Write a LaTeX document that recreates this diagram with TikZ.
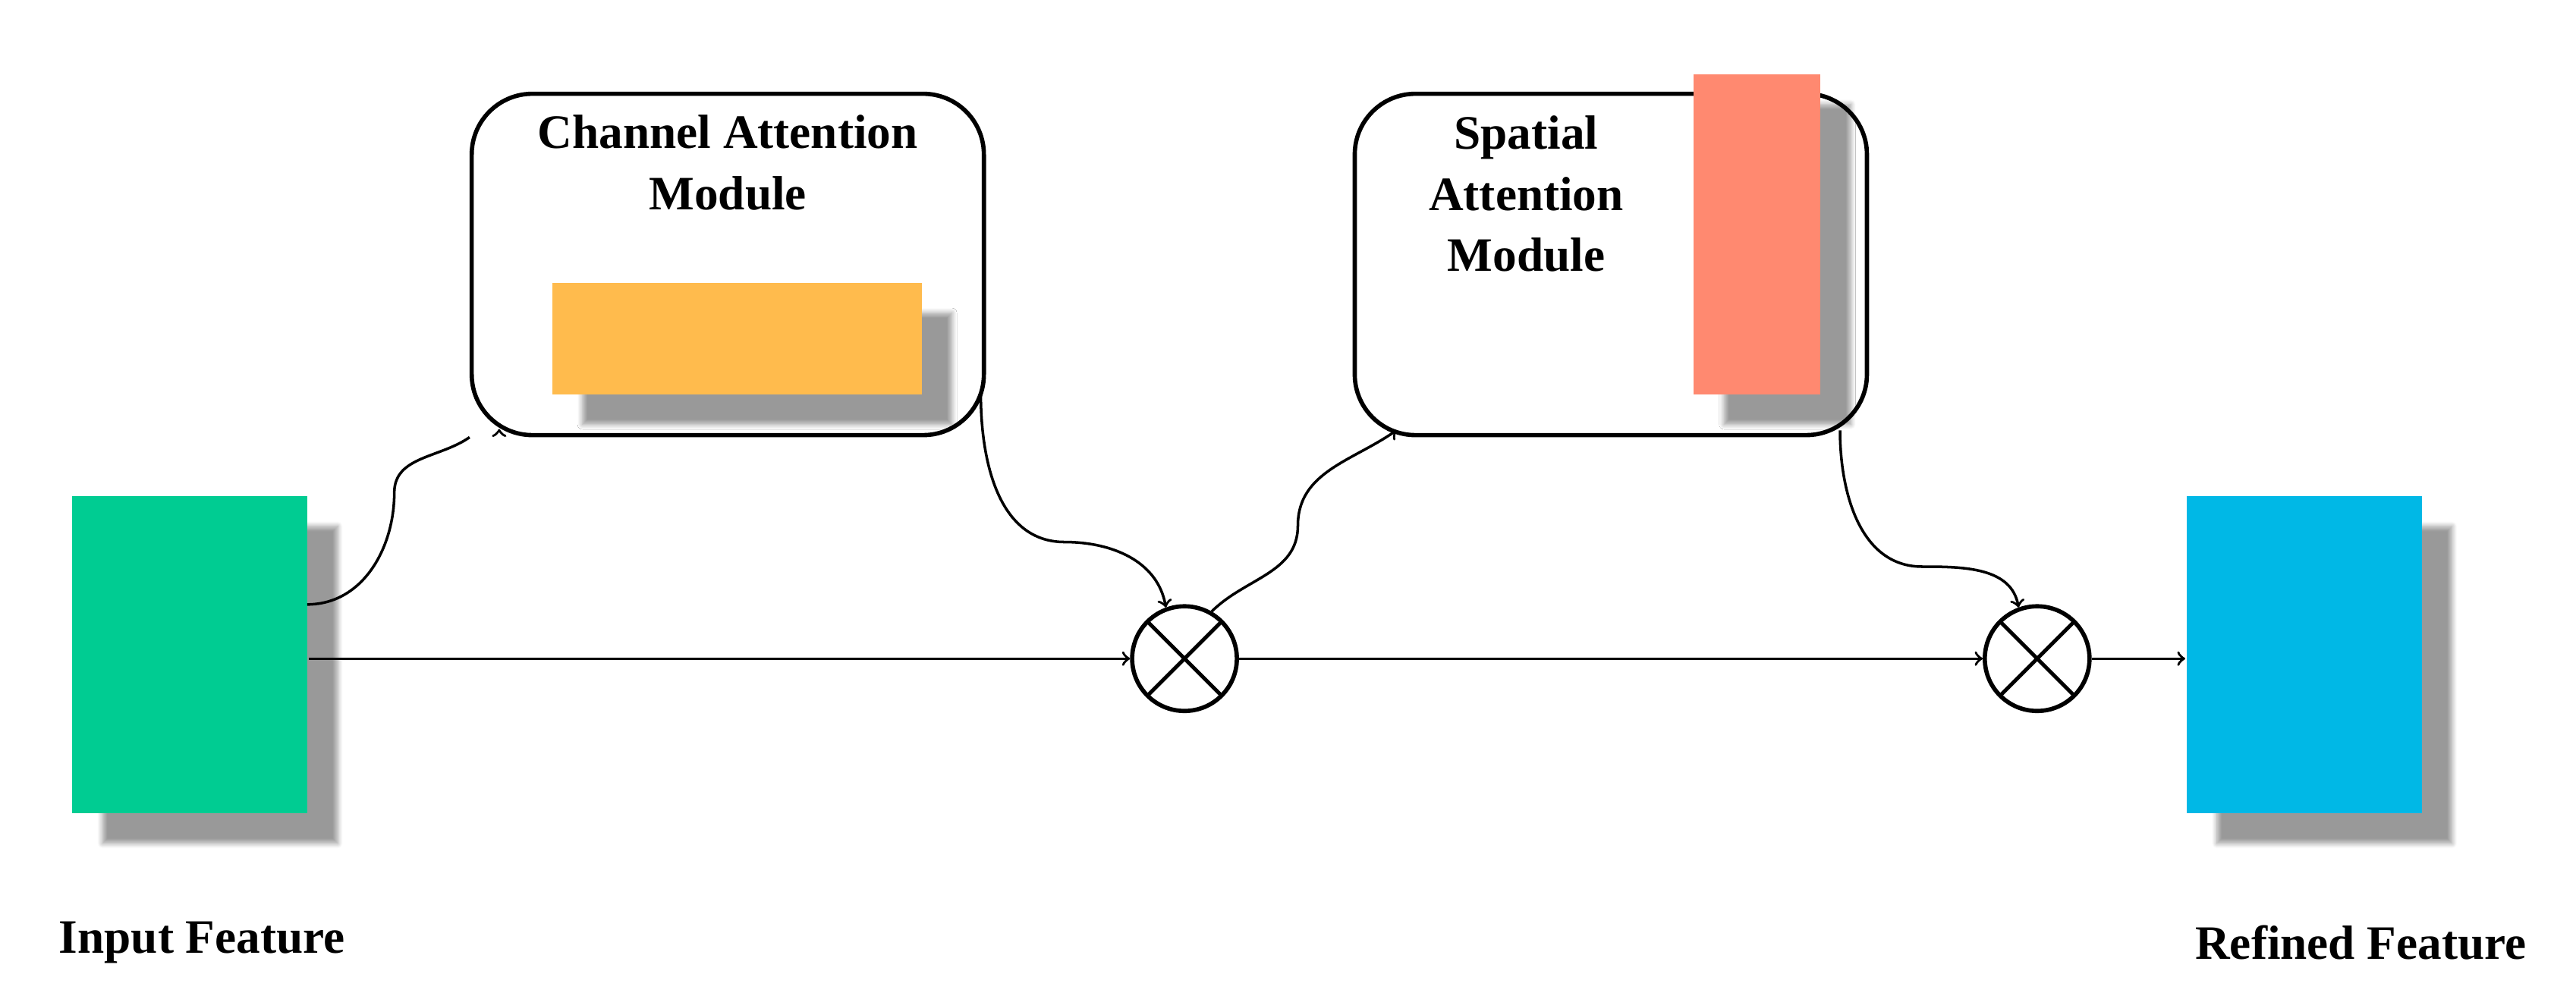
\documentclass[tikz,border=0pt]{standalone}
\usepackage{fontspec}
\setmainfont{Liberation Serif}
\usetikzlibrary{shadows.blur, positioning}
\tikzstyle{feat} = [rectangle, minimum width = 3.1cm, minimum height = 4.18cm,
  inner sep = 0, blur shadow = {shadow xshift = 0.4cm, shadow yshift = -0.4cm,
  shadow blur steps = 8}]
\tikzstyle{module} = [rectangle, rounded corners = 0.8cm, draw = black,
  line width = 1.6pt, minimum width = 6.75cm, minimum height = 4.5cm, fill = white]
\tikzstyle{mul} = [circle, draw = black, line width = 1.6pt, minimum size = 1.38cm,
  inner sep = 0, path picture = {
    \draw [line width = 1.4pt] (path picture bounding box.south west) --
    (path picture bounding box.north east) (path picture bounding box.north west)
    -- (path picture bounding box.south east);}]
\tikzstyle{lbl} = [font = \fontsize{18}{23}\selectfont\bfseries, align = center]

\begin{document}
\begin{tikzpicture}[x = 0.02165cm, y = -0.02165cm, line width = 1pt]
      \useasboundingbox (0, 0) rectangle (1568, 606);
      % features
      \node [feat, fill = {rgb,255:red,0;green,204;blue,146}] (in) at (115.5, 398.5) {};
      \node [feat, fill = {rgb,255:red,0;green,184;blue,230}] (out) at (1402.5, 398.5) {};
      \node [lbl] (in-l) at (123, 574) {Input Feature};
      \node [lbl] (out-l) at (1437, 574) {Refined Feature};
      % channel attention
      \node [module] (cam) at (443, 161) {};
      \node [lbl] (cam-l) at (443, 99) {Channel Attention\\Module};
      \node [feat, minimum width = 4.87cm, minimum height = 1.47cm,
        fill = {rgb,255:red,255;green,187;blue,77}] (cam-m) at (448.5, 206) {};
      % spatial attention
      \node [module] (sam) at (980.5, 161) {};
      \node [lbl] (sam-l) at (929, 118) {Spatial\\Attention\\Module};
      \node [feat, minimum width = 1.67cm, minimum height = 4.22cm,
        fill = {rgb,255:red,255;green,137;blue,112}] (sam-m) at (1069.5, 142.5) {};
      % multiplications
      \node [mul] (m1) at (721, 401) {};
      \node [mul] (m2) at (1240, 401) {};

      \coordinate (in-e) at (187, 368);
      \draw [->] (in.east |- m1) -- (m1);
      \draw [->] (m1) -- (m2);
      \draw [->] (m2) -- (out.west |- m2);
      \draw [->] (in-e) to [out = 0, in = -90] (240, 300) to [out = 90, in = 215] (cam.south west) ++ (18, -5);
      \draw [->] (597, 240) to [out = -90, in = 180] (648, 330) to [out = 0, in = 100] (m1.110);
      \draw [->] (m1.60) to [out = 45, in = -90] (790, 320) to [out = 90, in = 215] (850, 262);
      \draw [->] (1120, 262) to [out = -90, in = 180] (1170, 345) to [out = 0, in = 100] (m2.110);
\end{tikzpicture}
\end{document}
